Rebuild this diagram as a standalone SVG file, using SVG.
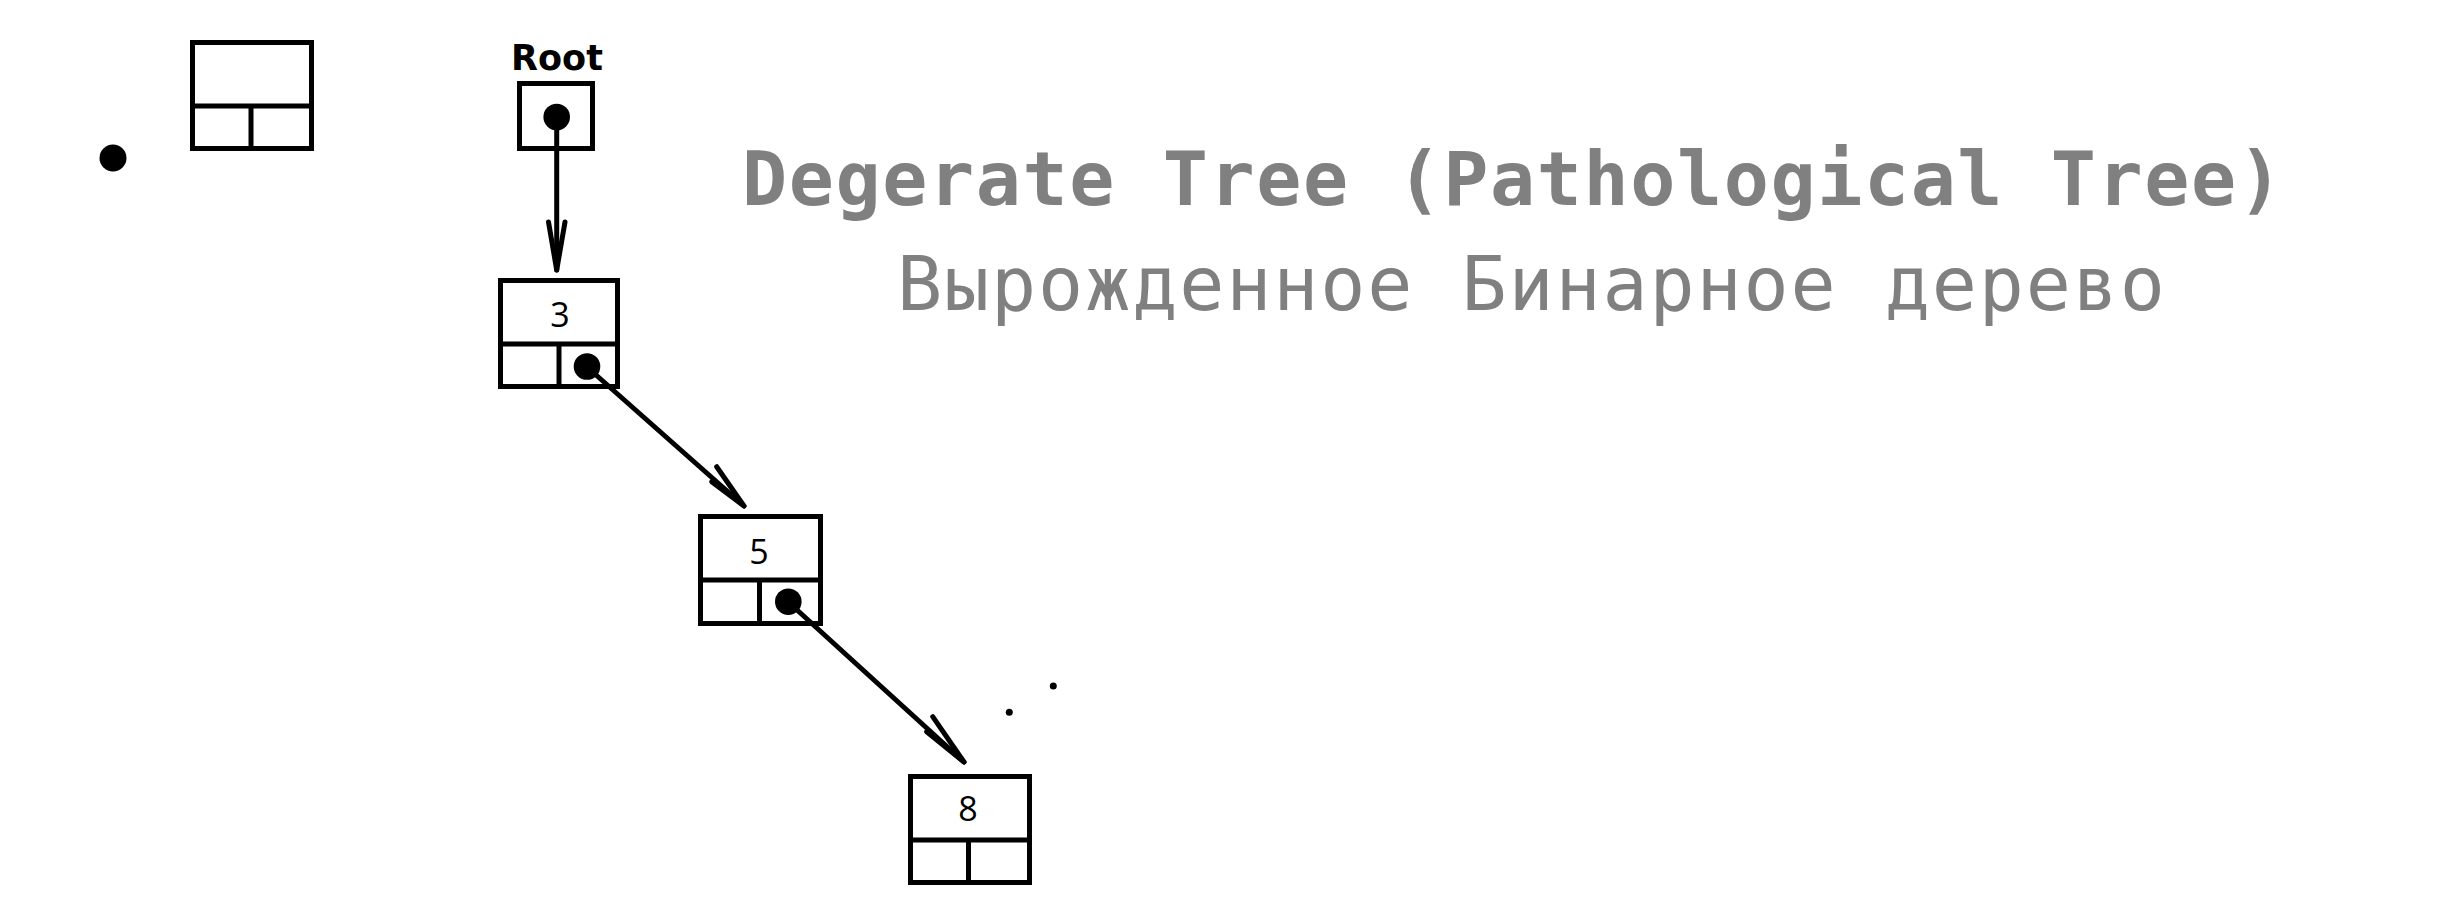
<svg xmlns="http://www.w3.org/2000/svg" width="2458" height="912" viewBox="0 0 2458 912">
<style>
.box{fill:none;stroke:#000;stroke-width:5}
.ln{stroke:#000;stroke-width:5;fill:none}
.val{font-family:"Open Sans","Liberation Sans",Arial,sans-serif;font-size:34px;fill:#000;text-anchor:middle}
.title{font-family:"DejaVu Sans Mono","Liberation Mono",monospace;font-size:75px;fill:#808080}
.conn{stroke:#000;stroke-width:5;fill:none;stroke-linecap:round;stroke-linejoin:round}
</style>
<rect width="2458" height="912" fill="#fff"/>
<g id="legend">
<circle cx="113" cy="158" r="13.5" fill="#000"/>
<rect class="box" x="192.5" y="42.5" width="119" height="106"/>
<line class="ln" x1="192.5" y1="106" x2="311.5" y2="106"/>
<line class="ln" x1="251" y1="106" x2="251" y2="148.5"/>
</g>
<g id="root">
<text x="557" y="70" font-family="'DejaVu Sans',sans-serif" font-weight="bold" font-size="35" text-anchor="middle">Root</text>
<rect class="box" x="519.5" y="83.5" width="73" height="65"/>
<circle cx="556.7" cy="117" r="13.3" fill="#000"/>
</g>
<g id="node3">
<rect class="box" x="500.5" y="280.5" width="117" height="106"/>
<line class="ln" x1="500.5" y1="344" x2="617.5" y2="344"/>
<line class="ln" x1="559" y1="344" x2="559" y2="386.5"/>
<text class="val" x="560" y="327">3</text>
<circle cx="587" cy="366.5" r="13.3" fill="#000"/>
</g>
<g id="node5">
<rect class="box" x="700.5" y="516.5" width="120" height="107"/>
<line class="ln" x1="700.5" y1="580" x2="820.5" y2="580"/>
<line class="ln" x1="759.5" y1="580" x2="759.5" y2="623.5"/>
<text class="val" x="759" y="564">5</text>
<circle cx="788.3" cy="601.7" r="13.3" fill="#000"/>
</g>
<g id="node8">
<rect class="box" x="910.5" y="776.5" width="119" height="106"/>
<line class="ln" x1="910.5" y1="840" x2="1029.5" y2="840"/>
<line class="ln" x1="968.5" y1="840" x2="968.5" y2="882.5"/>
<text class="val" x="968" y="821">8</text>
</g>
<g id="connectors">
<path class="conn" d="M556.7,117 L556.7,270"/>
<path class="conn" d="M548.5,222 L556.7,270 L565,222"/>
<path class="conn" d="M587,367 L744,506"/>
<path class="conn" d="M716.7,466.7 L744,506 L711.7,481.7"/>
<path class="conn" d="M788.3,602 L964,762"/>
<path class="conn" d="M932.7,716.7 L964,762 L926.7,731.7"/>
</g>
<g id="dots">
<circle cx="1009.3" cy="712.3" r="3.5" fill="#000"/>
<circle cx="1053.3" cy="686" r="3.5" fill="#000"/>
</g>
<g id="titles">
<text class="title" x="742" y="205" font-weight="bold" textLength="1541" lengthAdjust="spacing">Degerate Tree (Pathological Tree)</text>
<text class="title" x="897" y="310" textLength="1268" lengthAdjust="spacing">Вырожденное Бинарное дерево</text>
</g>
</svg>
